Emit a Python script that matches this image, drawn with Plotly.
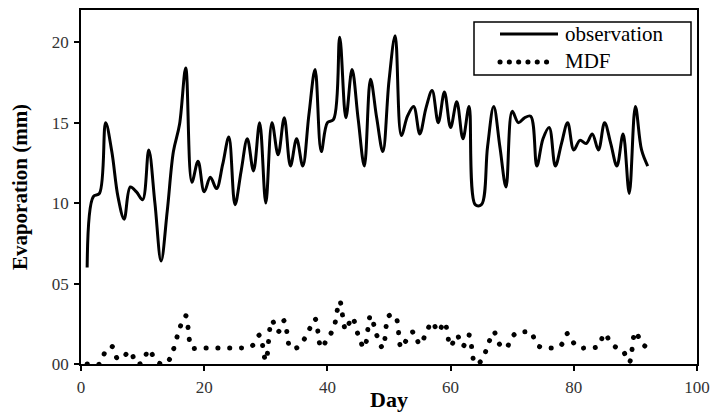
import plotly.graph_objects as go

# Daily evaporation (mm), days 1..92
days = list(range(1, 93))

observation = [
    6.0, 10.4, 10.6, 15.0, 13.2, 10.4, 9.0, 11.0, 10.7, 10.2,
    13.3, 10.0, 6.4, 9.5, 13.2, 14.9, 18.4, 11.3, 12.6, 10.7,
    11.6, 10.9, 12.4, 14.1, 9.9, 12.0, 14.0, 12.0, 15.0, 10.0,
    15.0, 13.0, 15.3, 12.3, 14.0, 12.3, 15.5, 18.3, 13.2, 15.0,
    15.2, 20.3, 15.3, 18.3, 15.2, 12.3, 17.7, 15.3, 13.2, 17.6,
    20.4, 14.2, 15.4, 16.0, 14.3, 15.9, 17.0, 15.0, 16.9, 14.7,
    16.3, 14.0, 16.0, 9.9, 9.9, 13.5, 16.0, 13.5, 11.0, 15.7,
    15.0, 15.3, 15.4, 12.3, 14.0, 14.7, 12.3, 13.7, 15.0, 13.3,
    13.9, 13.7, 14.3, 13.3, 15.0, 13.7, 12.3, 14.3, 10.6, 16.0,
    13.3, 12.3,
]

mdf = [
    0.0, 0.0, 0.0, 0.8, 1.1, 0.3, 0.5, 0.8, 0.0, 0.1,
    0.9, 0.3, 0.0, 0.1, 0.9, 2.2, 3.0, 1.0, 1.0, 1.0,
    1.0, 1.0, 1.0, 1.0, 1.0, 1.0, 1.0, 1.2, 1.8, 0.2,
    2.7, 2.0, 2.7, 1.0, 1.0, 1.4, 2.1, 2.8, 1.0, 1.6,
    2.2, 3.9, 2.1, 2.9, 1.8, 1.0, 3.0, 1.8, 1.0, 3.0,
    3.0, 1.0, 1.6, 2.0, 1.2, 1.9, 2.6, 2.0, 2.6, 1.1,
    1.8, 1.1, 1.8, 0.0, 0.2, 1.1, 2.0, 1.2, 1.0, 1.7,
    2.0, 2.0, 2.0, 1.2, 1.0, 1.0, 1.0, 1.2, 1.9, 1.3,
    1.0, 1.0, 1.0, 1.1, 1.9, 1.3, 1.0, 0.8, 0.1, 2.0,
    1.3, 1.0,
]

y_ticks = [0, 5, 10, 15, 20]
y_tick_labels = ["00", "05", "10", "15", "20"]
x_ticks = [0, 20, 40, 60, 80, 100]

SERIF = "Liberation Serif, Times New Roman, serif"
ROUND_DOT = "0.1px,11.7px"
ROUND_DOT_LEGEND = "0.1px,9.2px"

fig = go.Figure()
fig.add_trace(go.Scatter(
    x=days, y=observation, name="observation", mode="lines",
    line=dict(color="black", width=3, shape="spline", smoothing=1.0),
    showlegend=False,
))
fig.add_trace(go.Scatter(
    x=days, y=mdf, name="MDF", mode="lines",
    line=dict(color="black", width=5, shape="spline", smoothing=1.0,
              dash=ROUND_DOT),
    showlegend=False,
))

# Legend box drawn by hand so the sample lines can be long
fig.add_shape(type="rect", xref="paper", yref="paper",
              x0=(474 - 81) / 616, x1=(691 - 81) / 616,
              y0=(364 - 75) / 354, y1=(364 - 22) / 354,
              line=dict(color="black", width=1.5), fillcolor="white")
fig.add_shape(type="line", xref="paper", yref="paper",
              x0=(500 - 81) / 616, x1=(558 - 81) / 616,
              y0=(364 - 34) / 354, y1=(364 - 34) / 354,
              line=dict(color="black", width=3))
fig.add_shape(type="line", xref="paper", yref="paper",
              x0=(500 - 81) / 616, x1=(550 - 81) / 616,
              y0=(364 - 62) / 354, y1=(364 - 62) / 354,
              line=dict(color="black", width=5, dash=ROUND_DOT_LEGEND))
for label, ypix in (("observation", 34), ("MDF", 61)):
    fig.add_annotation(text=label, xref="paper", yref="paper",
                       x=(563 - 81) / 616, y=(364 - ypix) / 354,
                       xanchor="left", yanchor="middle", showarrow=False,
                       font=dict(family=SERIF, size=21, color="black"))

axis_common = dict(
    showline=True, linecolor="black", linewidth=1.5, mirror=True,
    ticks="outside", ticklen=5, tickwidth=1.5, tickcolor="black",
    showgrid=False, zeroline=False, automargin=False,
    tickfont=dict(family=SERIF, size=17, color="#333333"),
)

fig.update_xaxes(
    range=[0, 100], tickvals=x_ticks, ticklabelstandoff=2, **axis_common,
    title=dict(text="<b>Day</b>", standoff=6,
               font=dict(family=SERIF, size=22, color="black")),
)
fig.update_yaxes(
    range=[0, 22], tickvals=y_ticks, ticktext=y_tick_labels,
    ticklabelstandoff=2, **axis_common,
    title=dict(text="<b>Evaporation (mm)</b>", standoff=18,
               font=dict(family=SERIF, size=21, color="black")),
)

fig.update_layout(
    width=712, height=412,
    margin=dict(l=81, r=15, t=10, b=48),
    paper_bgcolor="white", plot_bgcolor="white",
)

# Give the dotted strokes round caps so each dash renders as a dot
round_caps = """
document.querySelectorAll('path').forEach(function (p) {
  var d = p.style.strokeDasharray || '';
  if (d.indexOf('0.1px') === 0) { p.style.strokeLinecap = 'round'; }
});
"""

fig.write_html("out.html", post_script=round_caps)
